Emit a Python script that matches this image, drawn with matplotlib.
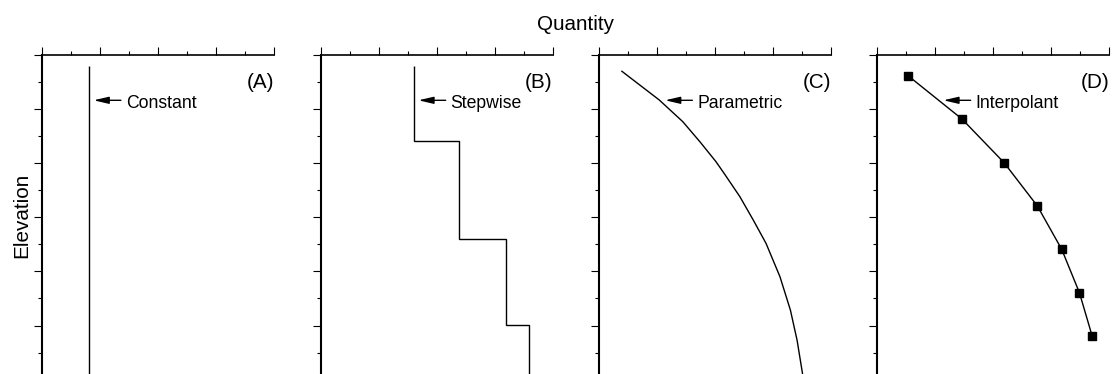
import matplotlib
matplotlib.use("Agg")
import matplotlib.pyplot as plt
from matplotlib.ticker import MultipleLocator

plt.rcParams['font.family'] = ['Liberation Sans', 'DejaVu Sans']

# ---- data -------------------------------------------------------------
panel_tags = ["(A)", "(B)", "(C)", "(D)"]
curve_names = ["Constant", "Stepwise", "Parametric", "Interpolant"]

# (A) constant profile
const_x = [1.6, 1.6]
const_y = [0.42, 12.0]

# (B) stepwise profile: one value per layer
step_x = [3.2, 4.78, 6.39, 7.19]
step_edges = [0.42, 3.19, 6.80, 9.98, 12.0]

# (C) smooth parametric profile
param_x = [0.79, 2.08, 2.89, 3.48, 4.03, 4.31, 4.86, 5.32, 5.76, 6.24, 6.60, 6.83, 7.02, 7.05]
param_y = [0.62, 1.68, 2.48, 3.22, 3.95, 4.38, 5.25, 6.11, 6.97, 8.20, 9.43, 10.54, 11.79, 12.0]

# (D) sampled points joined by straight segments
interp_x = [1.08, 2.93, 4.38, 5.53, 6.37, 6.98, 7.42]
interp_y = [0.79, 2.38, 3.99, 5.59, 7.19, 8.79, 10.39]

# arrow tip x-position for each label (data units), common arrow height
arrow_tip_x = [1.77, 3.37, 2.28, 2.29]
arrow_y = 1.69
label_baseline_y = 1.98

# ---- layout -----------------------------------------------------------
W, H = 1113, 374
fig = plt.figure(figsize=(W / 100, H / 100), dpi=100)

px_left = [42.3, 320.7, 599.0, 877.0]
px_width = 232.0
px_top = 54.5
unit_h = 27.1
y_max = 12.0
px_height = unit_h * y_max

axes = []
for left in px_left:
    ax = fig.add_axes([left / W, (H - px_top - px_height) / H,
                       px_width / W, px_height / H])
    ax.set_xlim(0, 8)
    ax.set_ylim(y_max, 0)
    ax.xaxis.set_ticks_position('top')
    ax.xaxis.set_major_locator(MultipleLocator(2))
    ax.xaxis.set_minor_locator(MultipleLocator(1))
    ax.yaxis.set_major_locator(MultipleLocator(2))
    ax.yaxis.set_minor_locator(MultipleLocator(1))
    ax.tick_params(which='major', direction='out', length=5.8, width=0.8,
                   labeltop=False, labelleft=False, labelbottom=False)
    ax.tick_params(which='minor', direction='out', length=2.9, width=0.8)
    ax.spines['bottom'].set_visible(False)
    ax.spines['right'].set_visible(False)
    ax.spines['left'].set_linewidth(1.5)
    ax.spines['top'].set_linewidth(1.2)
    ax.patch.set_visible(False)
    axes.append(ax)

lw = 1.0
axes[0].plot(const_x, const_y, color='black', lw=lw, solid_capstyle='butt')
axes[1].stairs(step_x, step_edges, orientation='horizontal', baseline=None,
               color='black', lw=lw)
axes[2].plot(param_x, param_y, color='black', lw=lw, solid_joinstyle='round')
axes[3].plot(interp_x, interp_y, color='black', lw=lw, marker='s',
             markersize=6.3, markerfacecolor='black', markeredgecolor='black')

for ax, tag, name, tip in zip(axes, panel_tags, curve_names, arrow_tip_x):
    ax.text(8.0, 1.25, tag, ha='right', va='baseline', fontsize=14.9)
    tail = tip + 0.94
    ax.annotate('', xy=(tip, arrow_y), xytext=(tail, arrow_y),
                arrowprops=dict(arrowstyle='-|>,head_length=0.9,head_width=0.21',
                                mutation_scale=10, lw=1.0, color='black',
                                shrinkA=0, shrinkB=0))
    ax.text(tail + 0.17, label_baseline_y, name, ha='left', va='baseline',
            fontsize=12.7)

fig.text(575.3 / W, 1 - 29.8 / H, "Quantity", ha='center', va='baseline',
         fontsize=14.9)
fig.text(22 / W, 1 - 215.5 / H, "Elevation", ha='center', va='center',
         rotation=90, fontsize=14.9)

fig.savefig("out.png", dpi=100, facecolor='white')
